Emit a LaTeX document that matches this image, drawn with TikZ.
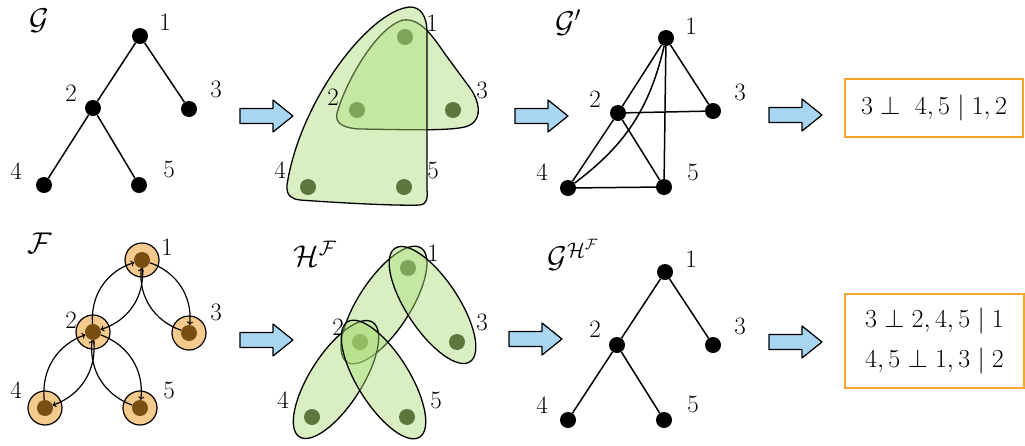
\RequirePackage{fix-cm}
\documentclass[tikz,border=0pt]{standalone}
\usetikzlibrary{shapes.geometric}
\definecolor{arrowblue}{RGB}{168,214,242}
\definecolor{boxorange}{RGB}{245,166,45}
\definecolor{hyperfill}{RGB}{170,220,120}
\definecolor{hyperdot}{RGB}{30,35,15}
\definecolor{facfill}{RGB}{245,202,140}
\definecolor{facdot}{RGB}{120,78,18}
\begin{document}
\begin{tikzpicture}[x=1pt,y=-1pt,
  vtx/.style={circle,fill=black,inner sep=0pt,minimum size=16pt},
  lbl/.style={inner sep=0pt,font=\fontsize{25}{29}\selectfont},
  ttl/.style={inner sep=0pt,font=\fontsize{30}{34}\selectfont},
  edge/.style={line width=1.5pt},
  hdot/.style={circle,fill=hyperdot,inner sep=0pt,minimum size=16pt},
  hedge/.style={draw=black,line width=1.3pt,fill=hyperfill,fill opacity=0.45},
  hell/.style={hedge,ellipse,inner sep=0pt,minimum width=136pt,minimum height=52pt},
  fbg/.style={circle,draw=black,line width=1.2pt,fill=facfill,inner sep=0pt,minimum size=34pt},
  fdot/.style={circle,fill=facdot,inner sep=0pt,minimum size=16pt},
  farc/.style={line width=1.2pt,->,bend left=38},
  stmt/.style={draw=boxorange,line width=1.5pt,inner sep=0pt,font=\fontsize{26}{40}\selectfont,align=center},
  bluearrow/.pic={\draw[fill=arrowblue,line width=1.2pt,line join=round] (0,-7.5) -- (33,-7.5) -- (33,-16) -- (53,0) -- (33,16) -- (33,7.5) -- (0,7.5) -- cycle;}
]
\useasboundingbox (0,0) rectangle (1025,445);

% ---------- Top-left: G ----------
\node[ttl] (tG) at (39,21) {$\mathcal{G}$};
\node[vtx] (a1) at (140,36) {};
\node[vtx] (a2) at (93,108) {};
\node[vtx] (a3) at (189,109) {};
\node[vtx] (a4) at (44,185) {};
\node[vtx] (a5) at (139,185) {};
\draw[edge] (a1) -- (a2);
\draw[edge] (a1) -- (a3);
\draw[edge] (a2) -- (a4);
\draw[edge] (a2) -- (a5);
\node[lbl] (la1) at (165,22) {1};
\node[lbl] (la2) at (71,93) {2};
\node[lbl] (la3) at (216,89) {3};
\node[lbl] (la4) at (16,171) {4};
\node[lbl] (la5) at (169,169) {5};

\pic (arr1) at (240,116) {bluearrow};

% ---------- Top hypergraph ----------
\node[hdot] (b1) at (405,37) {};
\node[hdot] (b2) at (357,110) {};
\node[hdot] (b3) at (453,110) {};
\node[hdot] (b4) at (308,187) {};
\node[hdot] (b5) at (404,187) {};
\path[hedge] (403,20) .. controls (420,18) and (432,35) .. (445,54)
  -- (470,88) .. controls (479,100) and (483,118) .. (470,125)
  .. controls (460,131) and (420,130) .. (360,129)
  .. controls (338,128) and (334,120) .. (338,110)
  .. controls (345,85) and (375,28) .. (403,20) -- cycle;
\path[hedge] (427,33) .. controls (427,15) and (420,7) .. (410,7)
  .. controls (370,10) and (300,100) .. (287,185)
  .. controls (286,196) and (292,199) .. (300,200)
  .. controls (340,203) and (400,206) .. (420,205)
  .. controls (427,204) and (428,198) .. (427,190) -- cycle;
\node[lbl] (lb1) at (432,23) {1};
\node[lbl] (lb2) at (333,97) {2};
\node[lbl] (lb3) at (482,90) {3};
\node[lbl] (lb4) at (280,170) {4};
\node[lbl] (lb5) at (433,170) {5};

\pic (arr2) at (515,116) {bluearrow};

% ---------- Top: G' ----------
\node[ttl] (tGp) at (568,23) {$\mathcal{G}'$};
\node[vtx] (c1) at (666,38) {};
\node[vtx] (c2) at (618,113) {};
\node[vtx] (c3) at (713,111) {};
\node[vtx] (c4) at (568,188) {};
\node[vtx] (c5) at (664,187) {};
\draw[edge] (c1) -- (c2);
\draw[edge] (c1) -- (c3);
\draw[edge] (c1) -- (c5);
\draw[edge] (c4) to[bend right=20] (c1);
\draw[edge] (c2) -- (c3);
\draw[edge] (c2) -- (c4);
\draw[edge] (c2) -- (c5);
\draw[edge] (c4) -- (c5);
\node[lbl] (lc1) at (691,26) {1};
\node[lbl] (lc2) at (595,99) {2};
\node[lbl] (lc3) at (740,92) {3};
\node[lbl] (lc4) at (542,172) {4};
\node[lbl] (lc5) at (693,172) {5};

\pic (arr3) at (769,115) {bluearrow};
\node[stmt,minimum width=178pt,minimum height=58pt] (box1) at (934,108)
  {$3 \perp\; 4,5 \mid 1,2$};

% ---------- Bottom-left: F ----------
\node[ttl] (tF) at (40,243) {$\mathcal{F}$};
\node[fbg] (fb1) at (142,260) {};
\node[fbg] (fb2) at (93,332) {};
\node[fbg] (fb3) at (189,333) {};
\node[fbg] (fb4) at (45,408) {};
\node[fbg] (fb5) at (140,408) {};
\node[fdot] (f1) at (142,260) {};
\node[fdot] (f2) at (93,332) {};
\node[fdot] (f3) at (189,333) {};
\node[fdot] (f4) at (45,408) {};
\node[fdot] (f5) at (140,408) {};
\draw[farc] (f1) to (f2);
\draw[farc] (f2) to (f1);
\draw[farc] (f1) to (f3);
\draw[farc] (f3) to (f1);
\draw[farc] (f2) to (f4);
\draw[farc] (f4) to (f2);
\draw[farc] (f2) to (f5);
\draw[farc] (f5) to (f2);
\node[lbl] (lf1) at (167,247) {1};
\node[lbl] (lf2) at (71,320) {2};
\node[lbl] (lf3) at (216,312) {3};
\node[lbl] (lf4) at (16,390) {4};
\node[lbl] (lf5) at (169,390) {5};

\pic (arr4) at (240,340) {bluearrow};

% ---------- Bottom hypergraph H^F ----------
\node[ttl] (tH) at (315,254) {$\mathcal{H}^{\mathcal{F}}$};
\node[hdot] (h1) at (408,268) {};
\node[hdot] (h2) at (360,342) {};
\node[hdot] (h3) at (457,342) {};
\node[hdot] (h4) at (312,417) {};
\node[hdot] (h5) at (407,417) {};
\node[hell,rotate=57] (e12) at (384,305) {};
\node[hell,rotate=123.5] (e13) at (432.5,305) {};
\node[hell,rotate=57.4] (e24) at (336,379.5) {};
\node[hell,rotate=122] (e25) at (383.5,379.5) {};
\node[lbl] (lh1) at (433,253) {1};
\node[lbl] (lh2) at (338,327) {2};
\node[lbl] (lh3) at (482,322) {3};
\node[lbl] (lh4) at (283,400) {4};
\node[lbl] (lh5) at (436,400) {5};

\pic (arr5) at (509,339) {bluearrow};

% ---------- Bottom: G^{H^F} ----------
\node[ttl] (tGH) at (573,255) {$\mathcal{G}^{\mathcal{H}^{\mathcal{F}}}$};
\node[vtx] (d1) at (665,272) {};
\node[vtx] (d2) at (617,345) {};
\node[vtx] (d3) at (713,345) {};
\node[vtx] (d4) at (568,420) {};
\node[vtx] (d5) at (664,420) {};
\draw[edge] (d1) -- (d2);
\draw[edge] (d1) -- (d3);
\draw[edge] (d2) -- (d4);
\draw[edge] (d2) -- (d5);
\node[lbl] (ld1) at (691,259) {1};
\node[lbl] (ld2) at (595,329) {2};
\node[lbl] (ld3) at (740,326) {3};
\node[lbl] (ld4) at (542,405) {4};
\node[lbl] (ld5) at (693,404) {5};

\pic (arr6) at (769,342) {bluearrow};
\node[stmt,minimum width=179pt,minimum height=94pt] (box2) at (934.5,341)
  {$3 \perp 2,4,5 \mid 1$\\$4,5 \perp 1,3 \mid 2$};
\end{tikzpicture}
\end{document}
